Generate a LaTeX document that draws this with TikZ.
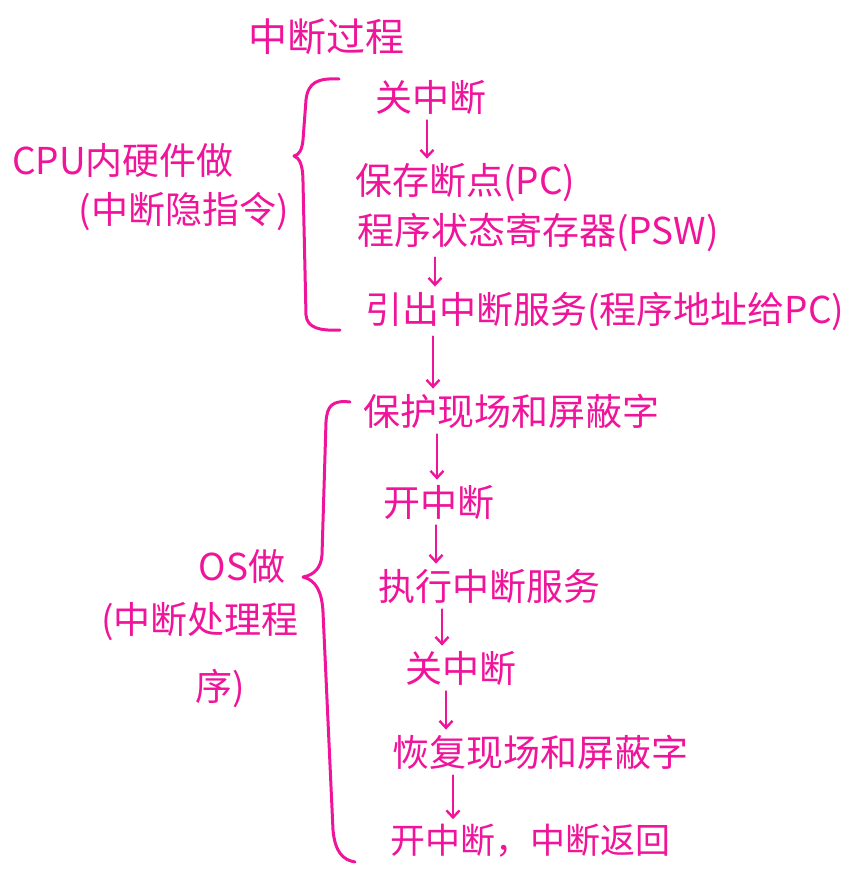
\documentclass[tikz,border=0pt]{standalone}
\usepackage{fontspec}
\newfontfamily\cjk{Noto Sans CJK SC}
\usetikzlibrary{arrows.meta}
\definecolor{ink}{HTML}{F0149A}
\begin{document}
\begin{tikzpicture}[x=1pt,y=-1pt,
  lbl/.style={inner sep=0pt,text=ink,font=\cjk\fontsize{37}{42}\selectfont},
  stepnode/.style={lbl,anchor=west},
  arr/.style={draw=ink,line width=2.4pt,line cap=round,
    -{Straight Barb[length=7pt,width=13pt,line width=2.4pt]},
    shorten <=6pt,shorten >=5pt},
  brace/.style={draw=ink,line width=3pt,line cap=round,line join=round}]
\useasboundingbox (0,0) rectangle (862,889);

% title
\node[lbl,font=\cjk\fontsize{39}{44}\selectfont] (t0) at (326,37) {中断过程};

% hardware part
\node[stepnode] (k1) at (375,97) {关中断};
\node[stepnode] (k2) at (355,183) {保存断点(PC)};
\node[stepnode] (k3) at (357,232) {程序状态寄存器(PSW)};
\node[stepnode] (k4) at (365,311) {引出中断服务(程序地址给PC)};

% operating system part
\node[stepnode] (m1) at (363,411) {保护现场和屏蔽字};
\node[stepnode] (m2) at (383,502) {开中断};
\node[stepnode] (m3) at (378,586) {执行中断服务};
\node[stepnode] (m4) at (405,668) {关中断};
\node[stepnode] (m5) at (392,752) {恢复现场和屏蔽字};
\node[stepnode,font=\cjk\fontsize{35}{40}\selectfont] (m6) at (390,841) {开中断，中断返回};

% left-hand labels
\node[lbl] (h1) at (123,160) {CPU内硬件做};
\node[lbl] (h2) at (184,212) {(中断隐指令)};
\node[lbl] (o1) at (242,566) {OS做};
\node[lbl] (o2) at (200,622) {(中断处理程};
\node[lbl] (o3) at (220,688) {序)};

% x positions of the arrows
\coordinate (x1) at (427,0);
\coordinate (x2) at (435,0);
\coordinate (x3) at (433,0);
\coordinate (x4) at (437,0);
\coordinate (x5) at (436,0);
\coordinate (x6) at (442,0);
\coordinate (x7) at (446,0);
\coordinate (x8) at (453,0);

\draw[arr] (k1.south -| x1) -- (k2.north -| x1);
\draw[arr] (k3.south -| x2) -- (k4.north -| x2);
\draw[arr] (k4.south -| x3) -- (m1.north -| x3);
\draw[arr] (m1.south -| x4) -- (m2.north -| x4);
\draw[arr] (m2.south -| x5) -- (m3.north -| x5);
\draw[arr] (m3.south -| x6) -- (m4.north -| x6);
\draw[arr] (m4.south -| x7) -- (m5.north -| x7);
\draw[arr] (m5.south -| x8) -- (m6.north -| x8);

% braces
\draw[brace] (339,79) .. controls (318,78) and (308,82) .. (306,100)
  -- (303,140) .. controls (302,150) and (299,155) .. (294,156)
  .. controls (300,158) and (303,166) .. (303,182)
  -- (306,315) .. controls (307,328) and (320,331) .. (340,330);
\draw[brace] (350,402) .. controls (332,400) and (327,406) .. (326,422)
  -- (322,555) .. controls (321,568) and (314,575) .. (303,577)
  .. controls (316,580) and (322,592) .. (323,612)
  -- (333,830) .. controls (335,852) and (343,860) .. (355,862);
\end{tikzpicture}
\end{document}
